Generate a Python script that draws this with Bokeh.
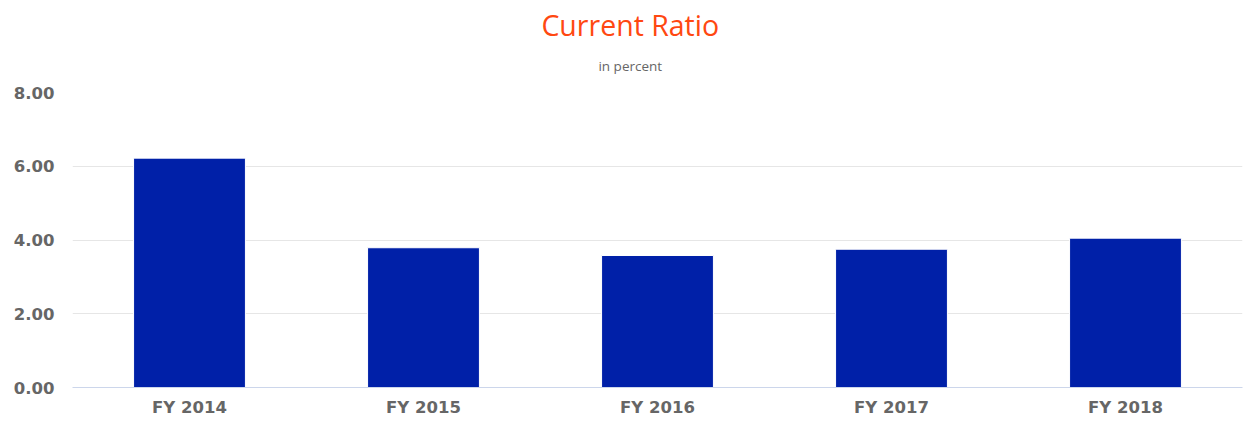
from bokeh.plotting import figure
from bokeh.layouts import column
from bokeh.models import Range1d, ColumnDataSource, FixedTicker, CustomJSTickFormatter
from bokeh.core.properties import value
from bokeh.embed import file_html
from bokeh.resources import INLINE

categories = ["FY 2014", "FY 2015", "FY 2016", "FY 2017", "FY 2018"]
values = [6.22, 3.79, 3.58, 3.75, 4.05]
y_ticks = [0, 2, 4, 6, 8]
title_text = "Current Ratio"
subtitle_text = "in percent"

W = 1246
HEAD = 82

# header figure holding title + subtitle (pixel coordinates, y down)
head = figure(width=W, height=HEAD, x_range=Range1d(0, W), y_range=Range1d(HEAD, 0),
              x_axis_type=None, y_axis_type=None,
              output_backend="svg", toolbar_location=None, min_border=0)
head.grid.visible = False
head.outline_line_color = None
head.text(x=[594], y=[24], text=[title_text], text_align="center", text_baseline="middle",
          text_font=value("Open Sans"), text_font_size="28.5px", text_color="#ff4811")
head.text(x=[594], y=[65], text=[subtitle_text], text_align="center", text_baseline="middle",
          text_font=value("Open Sans"), text_font_size="13.5px", text_color="#666666")

src = ColumnDataSource(dict(cat=categories, val=values))

p = figure(x_range=categories, y_range=Range1d(0, 8), width=W, height=346,
           output_backend="svg", toolbar_location=None, title=None,
           min_border_left=72, min_border_right=4, min_border_bottom=41, min_border_top=10)
p.outline_line_color = None

p.vbar(x="cat", top="val", width=0.478, source=src, fill_color="#0020a8",
       line_color="white", line_width=1)

p.yaxis.ticker = FixedTicker(ticks=y_ticks)
p.yaxis.formatter = CustomJSTickFormatter(code="return tick.toFixed(2);")
p.yaxis.axis_line_color = None
p.yaxis.major_tick_line_color = None
p.yaxis.minor_tick_line_color = None
p.yaxis.major_label_text_font = "DejaVu Sans"
p.yaxis.major_label_text_font_style = "bold"
p.yaxis.major_label_text_font_size = "16.5px"
p.yaxis.major_label_text_color = "#666666"
p.yaxis.major_label_standoff = 12

p.xaxis.axis_line_color = "#ccd6eb"
p.xaxis.major_tick_line_color = None
p.xaxis.minor_tick_line_color = None
p.xaxis.major_label_text_font = "DejaVu Sans"
p.xaxis.major_label_text_font_style = "bold"
p.xaxis.major_label_text_font_size = "16.5px"
p.xaxis.major_label_text_color = "#666666"
p.xaxis.major_label_standoff = 4

p.xgrid.grid_line_color = None
p.ygrid.grid_line_color = "#e6e6e6"

layout = column(head, p, spacing=0)
open("out.html", "w").write(file_html(layout, INLINE))
